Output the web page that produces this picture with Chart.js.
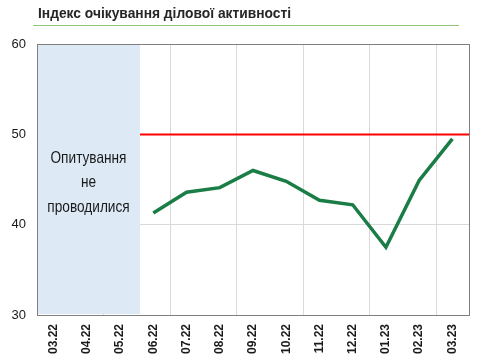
<!DOCTYPE html>
<html>
<head>
<meta charset="utf-8">
<script src="https://cdn.jsdelivr.net/npm/chart.js@4.4.1/dist/chart.umd.min.js"></script>
<style>
    html, body { margin: 0; padding: 0; background: #fff; }
    .wrap { position: relative; width: 495px; height: 363px; }
    .title {
        position: absolute; left: 38px; top: 5px;
        font: bold 13.8px "Liberation Sans", Arial, sans-serif; color: #262626;
        line-height: 18px;
    }
    canvas { position: absolute; left: 0; top: 0; }
</style>
</head>
<body>
<div class="wrap">
    <canvas id="chart" width="495" height="363"></canvas>
    <div class="title">Індекс очікування ділової активності</div>
</div>
<script>
// months on the x axis
const labels = ['03.22', '04.22', '05.22', '06.22', '07.22', '08.22', '09.22', '10.22', '11.22', '12.22', '01.23', '02.23', '03.23'];
// index values, no survey for the first three months
const values = [null, null, null, 41.3, 43.6, 44.1, 46.0, 44.8, 42.7, 42.2, 37.5, 44.9, 49.5];
const threshold = 50;
const noSurveyCount = 3;
const noSurveyText = ['Опитування', 'не', 'проводилися'];

const yTicks = [30, 40, 50, 60];

/**
 * Draws grid, red threshold line, shaded "no survey" block and border
 */
const decorPlugin = {
    id: 'decor',
    beforeDatasetsDraw(chart) {
        const { ctx, chartArea: a, scales: { x, y } } = chart;
        const step = x.getPixelForValue(1) - x.getPixelForValue(0);
        ctx.save();

        // green rule under the title
        ctx.fillStyle = '#92c47a';
        ctx.fillRect(33, 25, 426, 1);

        // vertical grid every two months
        ctx.strokeStyle = '#d9d9d9';
        ctx.lineWidth = 1;
        for (let i = 2; i < labels.length; i += 2) {
            const gx = Math.round(x.getPixelForValue(i) - step / 2) + 0.5;
            ctx.beginPath();
            ctx.moveTo(gx, a.top);
            ctx.lineTo(gx, a.bottom);
            ctx.stroke();
        }

        // threshold line
        const ty = Math.round(y.getPixelForValue(threshold)) + 0.5;
        ctx.strokeStyle = '#ff0000';
        ctx.lineWidth = 2;
        ctx.beginPath();
        ctx.moveTo(a.left, ty);
        ctx.lineTo(a.right, ty);
        ctx.stroke();

        // shaded block
        const shadeRight = x.getPixelForValue(noSurveyCount - 1) + step * 0.6;
        ctx.fillStyle = '#dde9f5';
        ctx.fillRect(a.left + 1, a.top + 1, shadeRight - a.left - 1, a.bottom - a.top - 2);

        // narrow text: squeeze horizontally so the longest word is ~76px
        const cx = (a.left + shadeRight) / 2;
        ctx.save();
        ctx.font = '16.5px "Liberation Sans", sans-serif';
        const squeeze = 76 / ctx.measureText(noSurveyText[0]).width;
        ctx.translate(cx, 0);
        ctx.scale(squeeze, 1);
        ctx.fillStyle = '#1a1a1a';
        ctx.textAlign = 'center';
        ctx.textBaseline = 'middle';
        noSurveyText.forEach((t, i) => ctx.fillText(t, 0, 158 + i * 24.5));
        ctx.restore();

        // border round the plot
        ctx.strokeStyle = '#7f7f7f';
        ctx.lineWidth = 1;
        ctx.strokeRect(Math.round(a.left) + 0.5, Math.round(a.top) + 0.5, Math.round(a.right - a.left), Math.round(a.bottom - a.top));
        ctx.restore();
    }
};

new Chart(document.getElementById('chart').getContext('2d'), {
    type: 'line',
    data: {
        labels: labels,
        datasets: [{
            data: values,
            borderColor: '#1a7d46',
            borderWidth: 3.5,
            pointRadius: 0,
            tension: 0,
            spanGaps: false
        }]
    },
    options: {
        responsive: false,
        animation: false,
        layout: { padding: { top: 44, right: 26, left: 0, bottom: 0 } },
        plugins: { legend: { display: false }, tooltip: { enabled: false } },
        scales: {
            x: {
                offset: true,
                grid: { display: false },
                border: { display: false },
                afterFit: s => { s.height = 48; },
                ticks: {
                    color: '#1a1a1a',
                    font: { family: 'Liberation Sans', size: 12, weight: 'bold' },
                    minRotation: 90,
                    maxRotation: 90,
                    autoSkip: false,
                    padding: 1
                }
            },
            y: {
                min: 30,
                max: 60,
                afterFit: s => { s.width = 37; },
                afterBuildTicks: s => { s.ticks = yTicks.map(v => ({ value: v })); },
                border: { display: false },
                grid: { color: '#d9d9d9', drawTicks: false },
                ticks: {
                    color: '#1a1a1a',
                    font: { family: 'Liberation Sans', size: 13 },
                    padding: 11
                }
            }
        }
    },
    plugins: [decorPlugin]
});
</script>
</body>
</html>
